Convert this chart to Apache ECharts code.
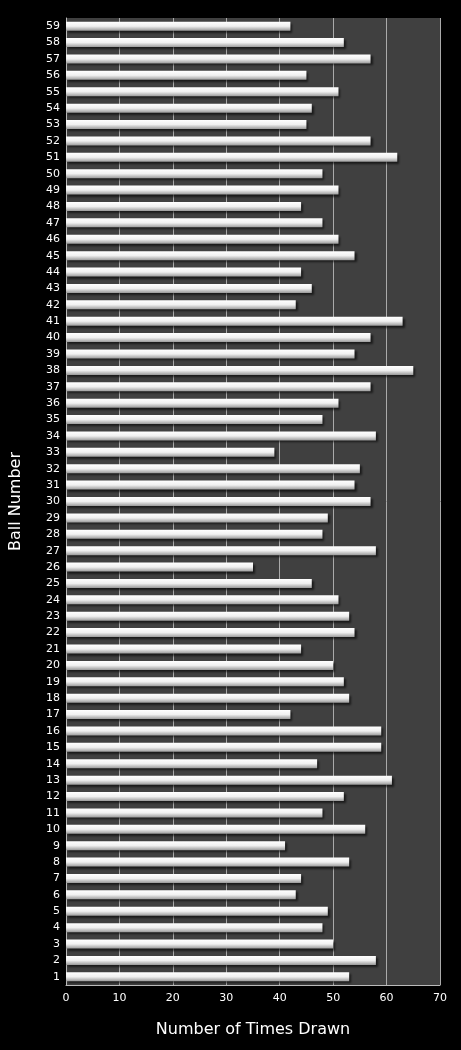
<!DOCTYPE html><html><head><meta charset="utf-8">
<script src="https://cdn.jsdelivr.net/npm/echarts@6/dist/echarts.min.js"></script>
<style>html,body{margin:0;background:#000}#c{width:461px;height:1050px}</style></head><body><div id="c"></div>
<script>
const categories = Array.from({length:59},(_,i)=>String(i+1));
const timesDrawn = [53,58,50,48,49,43,44,53,41,56,48,52,61,47,59,59,42,53,52,50,44,54,53,51,46,35,58,48,49,57,54,55,39,58,48,51,57,65,54,57,63,43,46,44,54,51,48,44,51,48,62,57,45,46,51,45,57,52,42];
const xTicks = [0,10,20,30,40,50,60,70];
const chart = echarts.init(document.getElementById('c'));
chart.setOption({
  backgroundColor:'#000',
  animation:false,
  grid:{left:66,right:21,top:18,bottom:65,show:true,backgroundColor:'#404040',borderWidth:0},
  xAxis:{type:'value',min:xTicks[0],max:xTicks[xTicks.length-1],interval:10,
    name:'Number of Times Drawn',nameLocation:'middle',nameGap:37,
    nameTextStyle:{color:'#fff',fontSize:16,fontFamily:'DejaVu Sans'},
    axisLabel:{color:'#fff',fontSize:11,fontFamily:'DejaVu Sans'},
    axisLine:{show:true,lineStyle:{color:'#bbb'}},axisTick:{show:false},
    splitLine:{lineStyle:{color:'#aaa',width:1}}},
  yAxis:{type:'category',data:categories,
    name:'Ball Number',nameLocation:'middle',nameGap:42,
    nameTextStyle:{color:'#fff',fontSize:16,fontFamily:'DejaVu Sans'},
    axisLabel:{color:'#fff',fontSize:11,fontFamily:'DejaVu Sans',interval:0,margin:6},
    axisLine:{show:true,lineStyle:{color:'#bbb'}},axisTick:{show:false}},
  series:[{type:'bar',data:timesDrawn,barWidth:9,
    itemStyle:{color:new echarts.graphic.LinearGradient(0,0,0,1,[{offset:0,color:'#ffffff'},{offset:0.5,color:'#f0f0f0'},{offset:1,color:'#9a9a9a'}]),
      shadowColor:'rgba(0,0,0,0.6)',shadowOffsetX:2,shadowOffsetY:2,shadowBlur:2}}]
});
</script></body></html>
